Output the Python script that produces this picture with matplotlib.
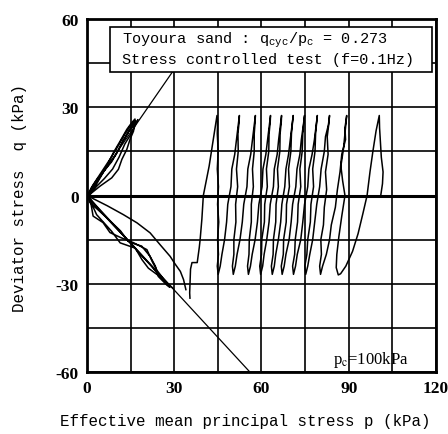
import numpy as np
import matplotlib.pyplot as plt
from matplotlib.patches import Rectangle

plt.rcParams['mathtext.fontset'] = 'custom'
plt.rcParams['mathtext.rm'] = 'Liberation Mono'
plt.rcParams['mathtext.it'] = 'Liberation Mono'
plt.rcParams['axes.unicode_minus'] = False

# cyclic stage: start at pc, then peak -> trough -> peak ... (p, q) in kPa
p_cyclic = [
    101.0, 101.6, 101.8, 101.2, 100.9, 100.6, 100.5,
    99.4, 98.3, 97.3, 96.3, 94.9, 93.2, 91.3, 89.0, 87.2, 86.4,
    85.7, 85.9, 86.6, 87.6, 88.7, 87.9, 87.3, 88.2, 88.8, 89.3,
    88.7, 88.9, 87.6, 87.0, 86.1, 85.4, 84.0, 83.4, 82.3, 81.0, 80.3,
    80.0, 80.6, 80.4, 81.3, 81.6, 82.4, 82.0, 82.9, 82.6, 83.1, 83.4,
    83.0, 82.0, 81.6, 80.5, 80.0, 79.0, 78.3, 77.6, 76.6, 75.9, 75.2,
    74.9, 75.6, 75.9, 76.8, 77.0, 77.9, 77.6, 78.4, 78.6, 79.0, 79.2,
    78.8, 78.2, 77.4, 76.3, 75.9, 74.8, 74.2, 73.5, 72.3, 71.7, 71.0,
    70.7, 71.4, 71.6, 72.4, 72.6, 73.5, 73.2, 74.0, 74.2, 74.6, 74.8,
    74.4, 73.7, 73.2, 72.2, 71.8, 70.7, 70.2, 69.5, 68.4, 67.8, 67.1,
    66.8, 67.5, 67.6, 68.5, 68.6, 69.6, 69.3, 70.1, 70.3, 70.7, 70.9,
    70.5, 69.9, 69.3, 68.4, 68.0, 67.0, 66.6, 65.8, 64.9, 64.4, 63.7,
    63.4, 64.0, 64.1, 64.9, 65.0, 65.8, 65.5, 66.3, 66.4, 66.8, 66.9,
    66.5, 65.9, 65.4, 64.4, 64.1, 63.0, 62.6, 61.8, 60.9, 60.4, 59.7,
    59.4, 60.0, 60.1, 61.0, 61.1, 62.0, 61.7, 62.5, 62.6, 63.0, 63.1,
    62.7, 62.1, 61.5, 60.5, 60.2, 59.1, 58.6, 57.8, 56.8, 56.2, 55.5,
    55.2, 55.7, 55.8, 56.5, 56.5, 57.2, 56.9, 57.5, 57.5, 57.8, 57.9,
    57.5, 56.9, 56.3, 55.3, 55.0, 53.9, 53.4, 52.6, 51.6, 51.0, 50.3,
    50.0, 50.5, 50.5, 51.2, 51.1, 51.8, 51.4, 52.0, 51.9, 52.3, 52.4,
    52.0, 51.4, 50.8, 49.8, 49.5, 48.4, 48.0, 47.3, 46.4, 45.8, 45.1,
    44.8, 45.2, 44.9, 45.3, 44.9, 45.2, 44.8, 45.1, 44.8, 44.9, 44.7,
    44.2, 43.4, 42.0, 40.0, 39.5, 38.9, 38.6, 37.9, 36.1, 35.6, 35.3, 35.4,
]
q_cyclic = [
    0.0, 4.0, 8.0, 13.0, 18.0, 23.0, 27.2,
    22.0, 15.0, 8.0, 0.0, -6.0, -13.0, -19.0, -24.0, -26.6, -27.0,
    -24.5, -20.0, -14.0, -7.0, 0.0, 5.0, 10.0, 16.0, 22.0, 27.2,
    23.0, 19.0, 14.0, 8.0, 2.0, -4.0, -10.0, -15.0, -20.0, -24.0, -26.8,
    -24.0, -20.0, -15.0, -10.0, -4.0, 2.0, 8.0, 14.0, 20.0, 24.0, 27.2,
    24.0, 20.0, 15.0, 9.0, 3.0, -3.0, -9.0, -15.0, -20.0, -24.0, -26.8,
    -24.0, -20.0, -15.0, -9.0, -3.0, 3.0, 9.0, 15.0, 21.0, 25.0, 27.2,
    24.0, 19.0, 14.0, 9.0, 3.0, -3.0, -9.0, -15.0, -20.0, -24.0, -26.8,
    -24.0, -20.0, -15.0, -9.0, -3.0, 3.0, 9.0, 15.0, 21.0, 25.0, 27.2,
    24.0, 19.0, 14.0, 9.0, 3.0, -3.0, -9.0, -15.0, -20.0, -24.0, -26.8,
    -24.0, -20.0, -15.0, -9.0, -3.0, 3.0, 9.0, 15.0, 21.0, 25.0, 27.2,
    24.0, 19.0, 14.0, 9.0, 3.0, -3.0, -9.0, -15.0, -20.0, -24.0, -26.8,
    -24.0, -20.0, -15.0, -9.0, -3.0, 3.0, 9.0, 15.0, 21.0, 25.0, 27.2,
    24.0, 19.0, 14.0, 9.0, 3.0, -3.0, -9.0, -15.0, -20.0, -24.0, -26.8,
    -24.0, -20.0, -15.0, -9.0, -3.0, 3.0, 9.0, 15.0, 21.0, 25.0, 27.2,
    24.0, 19.0, 14.0, 9.0, 3.0, -3.0, -9.0, -15.0, -20.0, -24.0, -26.8,
    -24.0, -20.0, -15.0, -9.0, -3.0, 3.0, 9.0, 15.0, 21.0, 25.0, 27.2,
    24.0, 19.0, 14.0, 9.0, 3.0, -3.0, -9.0, -15.0, -20.0, -24.0, -26.8,
    -24.0, -20.0, -15.0, -9.0, -3.0, 3.0, 9.0, 15.0, 21.0, 25.0, 27.2,
    24.0, 19.0, 14.0, 9.0, 3.0, -3.0, -9.0, -15.0, -20.0, -24.0, -26.8,
    -24.0, -20.0, -15.0, -9.0, -3.0, 3.0, 9.0, 15.0, 21.0, 25.0, 27.2,
    24.0, 19.0, 10.0, 0.0, -8.0, -15.0, -17.7, -22.8, -22.8, -25.0, -33.1, -34.9,
]

# liquefied stage: cycles between the compression and extension lines
p_liquefied = [
    34.0, 33.2, 32.1, 30.3, 28.6, 25.2, 21.7, 17.2, 12.5, 7.0, 3.0, 0.5,
    2.2, 4.5, 6.8, 9.1, 11.4, 13.7, 15.4, 16.5,
    16.0, 14.8, 13.7, 12.0, 10.8, 8.5, 4.5, 1.5, 0.3,
    1.0, 4.5, 7.9, 11.5, 14.1, 16.5, 18.8, 21.7, 23.5, 24.5, 27.5, 28.5,
    26.0, 22.0, 17.0, 12.0, 7.0, 3.0, 0.6,
    1.5, 3.5, 6.0, 8.5, 10.5, 12.5, 14.5, 16.8, 17.5,
    15.5, 13.0, 11.0, 8.8, 6.0, 3.2, 0.8,
    2.1, 5.5, 7.9, 11.6, 15.9, 20.6, 22.6, 24.1, 26.5, 28.3,
    25.5, 20.5, 15.0, 9.5, 4.5, 1.2, 0.0,
    2.0, 5.0, 8.0, 10.5, 12.8, 14.8, 16.5,
    15.0, 12.5, 10.0, 7.2, 4.5, 2.0, 0.2,
    3.3, 8.5, 11.4, 16.6, 18.9, 21.1, 25.8, 29.5,
]
q_liquefied = [
    -32.0, -28.6, -25.8, -23.3, -20.7, -16.8, -12.7, -9.3, -6.5, -3.5, -1.5, -0.3,
    2.0, 6.0, 10.0, 14.6, 18.5, 22.5, 24.8, 26.0,
    21.9, 19.1, 15.7, 12.3, 8.9, 6.0, 3.2, 0.8, -0.5,
    -2.4, -5.5, -8.6, -12.0, -15.5, -16.5, -17.2, -20.7, -24.0, -27.5, -30.5, -31.2,
    -28.5, -23.8, -18.5, -13.0, -7.8, -3.5, -0.8,
    2.5, 5.5, 8.5, 11.5, 15.0, 18.8, 22.0, 24.5, 25.8,
    21.5, 17.5, 13.0, 9.0, 5.8, 3.0, 0.4,
    -7.0, -9.2, -12.6, -14.3, -16.0, -18.4, -22.8, -25.5, -28.6, -30.5,
    -27.5, -22.2, -16.2, -10.5, -5.2, -1.3, 0.0,
    3.5, 8.0, 12.5, 16.5, 20.5, 23.5, 25.5,
    22.8, 18.5, 14.0, 10.2, 6.4, 2.6, 0.2,
    -6.5, -12.2, -16.1, -17.9, -21.8, -24.7, -28.1, -31.5,
]

# failure lines through the origin (compression one stops at the title box)
p_comp_line = [0.0, 29.3]
q_comp_line = [0.0, 41.9]
p_ext_line = [0.0, 56.0]
q_ext_line = [0.0, -60.0]

fig = plt.figure(figsize=(4.48, 4.35), dpi=100)
ax = fig.add_axes([0.1942, 0.1425, 0.779, 0.8115])

ax.set_xlim(0, 120)
ax.set_ylim(-60, 60)
ax.set_xticks([0, 30, 60, 90, 120])
ax.set_yticks([-60, -30, 0, 30, 60])
ax.set_xticks(np.arange(15, 120, 30), minor=True)
ax.set_yticks(np.arange(-45, 60, 30), minor=True)
ax.grid(True, which='both', color='black', linewidth=1.2)
ax.axhline(0, color='black', linewidth=2.2)
ax.tick_params(which='both', length=0, pad=6)
for lab in ax.get_xticklabels() + ax.get_yticklabels():
    lab.set_fontfamily('Liberation Serif')
    lab.set_fontsize(12.5)
    lab.set_fontweight('bold')
for s in ax.spines.values():
    s.set_linewidth(2.0)

ax.plot(p_comp_line, q_comp_line, color='black', linewidth=0.9)
ax.plot(p_ext_line, q_ext_line, color='black', linewidth=0.9)
ax.plot(p_cyclic, q_cyclic, color='black', linewidth=1.1)
ax.plot(p_liquefied, q_liquefied, color='black', linewidth=1.1)

# title box
ax.add_patch(Rectangle((7.9, 41.9), 110.8, 15.5, facecolor='white',
                       edgecolor='black', linewidth=1.2, zorder=5))
ax.text(12, 53.0, r'Toyoura sand : q$_{\mathrm{cyc}}$/p$_{\mathrm{c}}$ = 0.273',
        family='Liberation Mono', fontsize=11, va='center', zorder=6)
ax.text(12, 46.3, 'Stress controlled test (f=0.1Hz)',
        family='Liberation Mono', fontsize=11, va='center', zorder=6)

ax.text(84.5, -55.5, r'p$_{\mathrm{c}}$=100kPa', family='Liberation Serif',
        math_fontfamily='stix', fontsize=12, va='center')

fig.text(245 / 448, 1 - 422 / 435, 'Effective mean principal stress p (kPa)',
         family='Liberation Mono', fontsize=11.4, ha='center', va='center')
fig.text(20 / 448, 1 - 198 / 435, 'Deviator stress  q (kPa)',
         family='Liberation Mono', fontsize=11.4, ha='center', va='center',
         rotation=90)

fig.savefig('out.png', dpi=100)
